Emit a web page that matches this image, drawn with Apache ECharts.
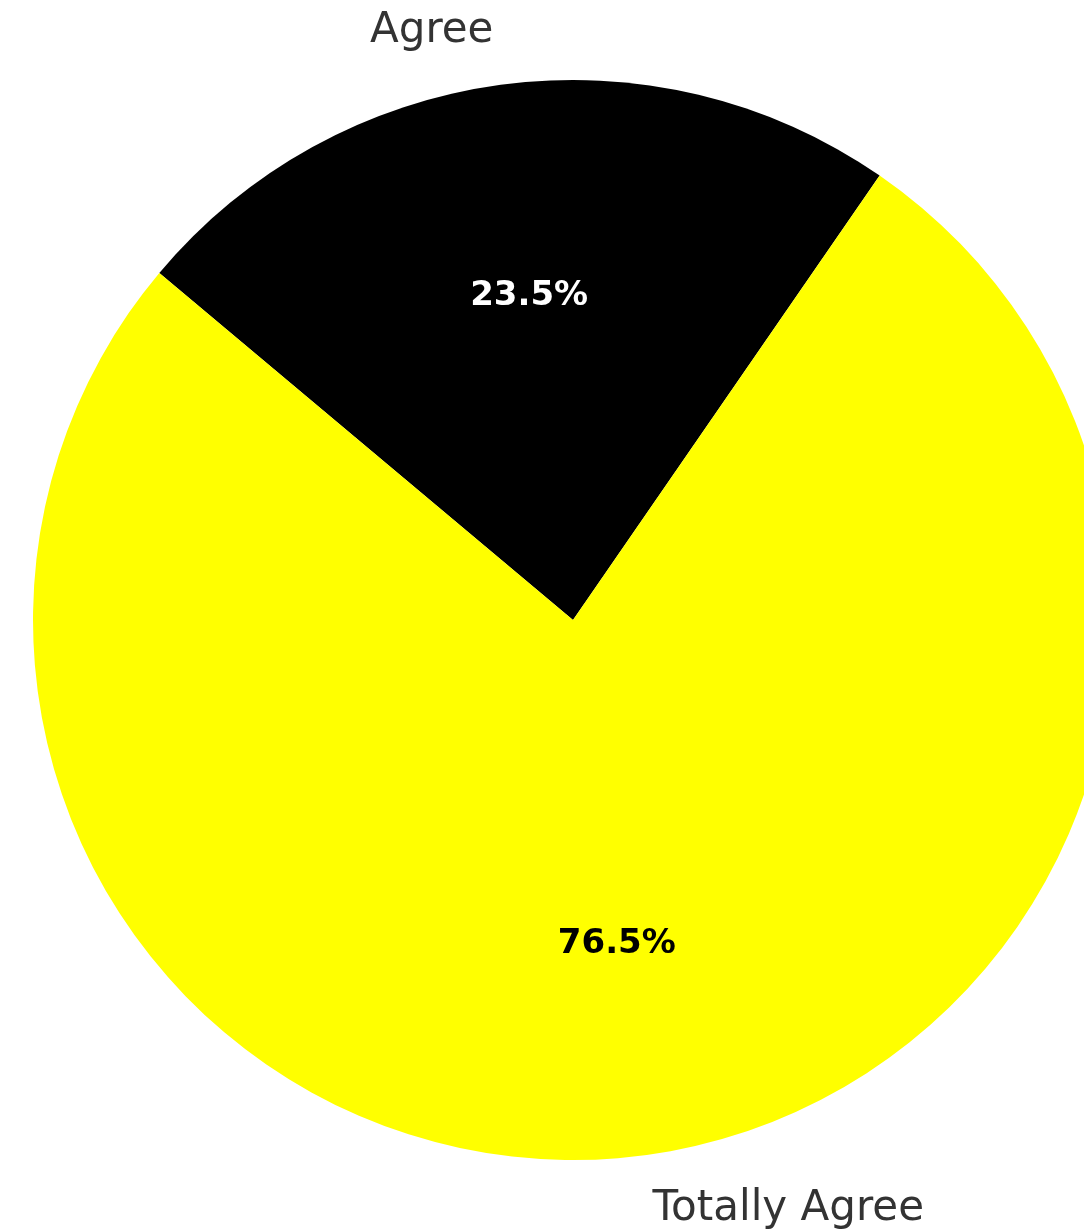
<!DOCTYPE html>
<html>
<head>
<meta charset="utf-8">
<script src="https://cdn.jsdelivr.net/npm/echarts@6/dist/echarts.min.js"></script>
<style>
  html, body { margin: 0; padding: 0; background: #fff; }
  #chart { width: 1084px; height: 1232px; }
</style>
</head>
<body>
<div id="chart"></div>
<script>
const categories = ['Agree', 'Totally Agree'];
const shares = [23.5, 76.5];
const sliceColors = ['#000000', '#ffff00'];
const pctColors = ['#ffffff', '#000000'];

const center = [573, 620];
const radius = 540;
const startAngle = 140;

const chart = echarts.init(document.getElementById('chart'));

const pieData = categories.map((name, i) => ({
  name,
  value: shares[i],
  itemStyle: { color: sliceColors[i] }
}));

// pct labels sit at 0.6 of the radius, so use an invisible pie of 1.2r
const pctData = categories.map((name, i) => ({
  name,
  value: shares[i],
  label: { color: pctColors[i] }
}));

chart.setOption({
  animation: false,
  series: [
    {
      type: 'pie',
      center,
      radius,
      startAngle,
      clockwise: true,
      avoidLabelOverlap: false,
      data: pieData,
      itemStyle: { borderWidth: 0 },
      label: {
        show: true,
        position: 'outside',
        formatter: '{b}',
        fontFamily: 'DejaVu Sans',
        fontSize: 42,
        color: '#333333',
        distanceToLabelLine: 0
      },
      labelLine: { show: false, length: radius * 0.1, length2: 0 },
      emphasis: { disabled: true }
    },
    {
      type: 'pie',
      center,
      radius: radius * 1.2,
      startAngle,
      clockwise: true,
      silent: true,
      z: 3,
      data: pctData,
      itemStyle: { color: 'rgba(0,0,0,0)', borderWidth: 0 },
      label: {
        show: true,
        position: 'inside',
        formatter: '{c}%',
        fontFamily: 'DejaVu Sans',
        fontWeight: 'bold',
        fontSize: 34
      },
      labelLine: { show: false },
      emphasis: { disabled: true }
    }
  ]
});
</script>
</body>
</html>
